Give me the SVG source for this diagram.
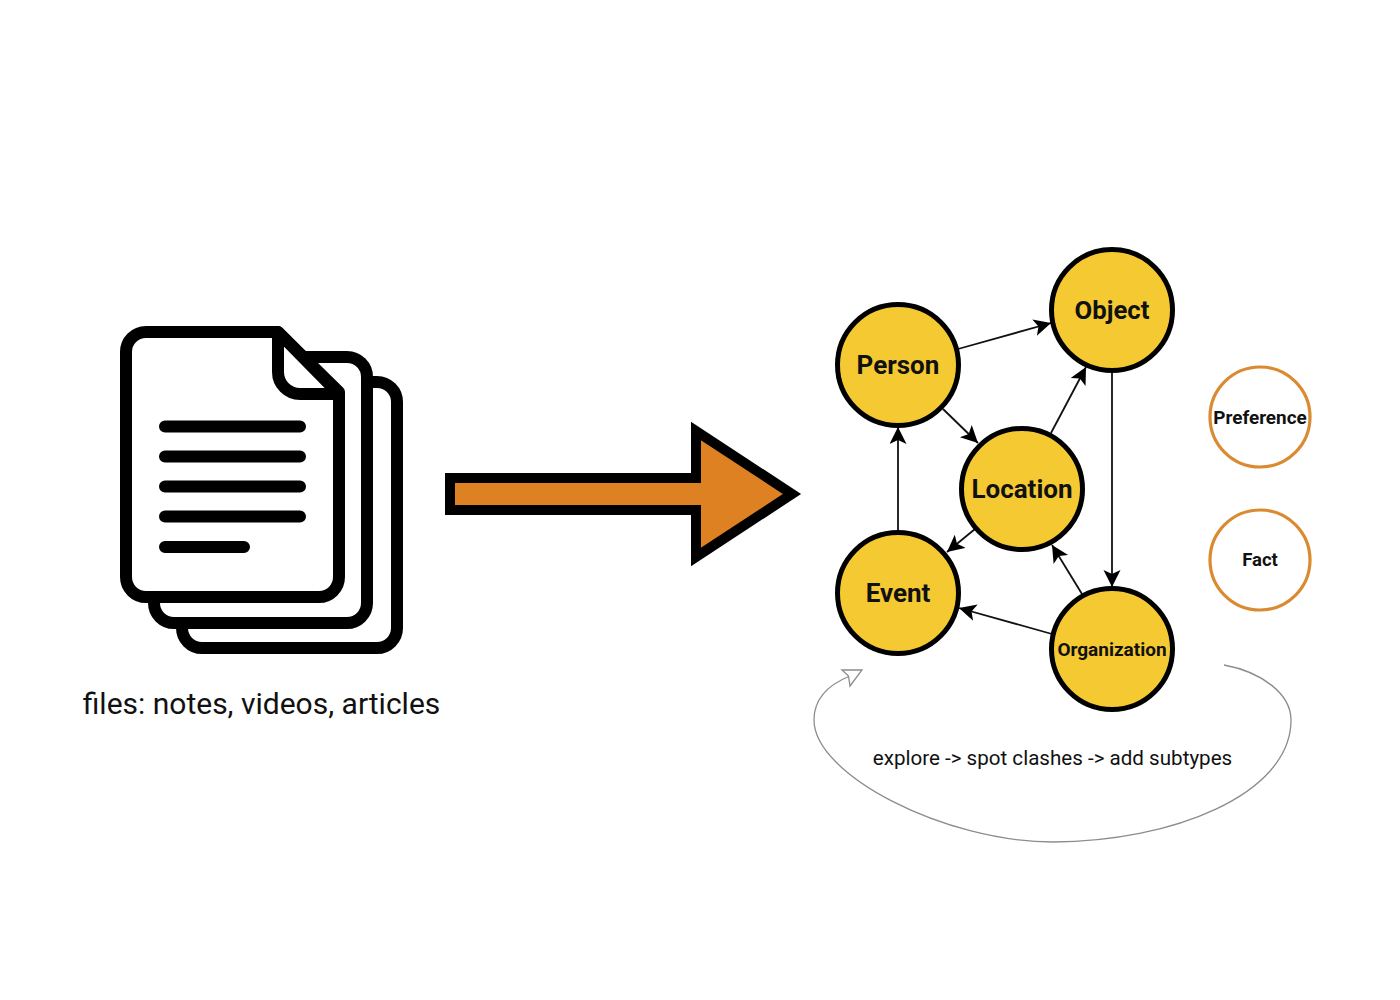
<svg xmlns="http://www.w3.org/2000/svg" width="1400" height="1000" viewBox="0 0 1400 1000">
<style>
text{font-family:Roboto,"Liberation Sans",sans-serif;fill:#111;text-anchor:middle}
.doc{fill:#fff;stroke:#000;stroke-width:12;stroke-linejoin:round}
.ln{stroke:#000;stroke-width:12;stroke-linecap:round;fill:none}
.n{fill:#f4c932;stroke:#000;stroke-width:5}
.o{fill:#fff;stroke:#da8a30;stroke-width:3.2}
.b{font-weight:700}
.e{stroke:#111;stroke-width:1.8;fill:none;marker-end:url(#a)}
</style>
<defs>
<marker id="a" markerUnits="userSpaceOnUse" markerWidth="19" markerHeight="19" refX="17" refY="8.500" orient="auto"><path d="M0 0L17 8.500L0 17L4 8.500Z" fill="#000"/></marker>
</defs>
<rect width="1400" height="1000" fill="#fff"/>
<g id="files">
<rect class="doc" x="182" y="382" width="215" height="266" rx="20"/>
<rect class="doc" x="154" y="357" width="213" height="266" rx="20"/>
<path class="doc" d="M146 332H278L339 392V577a20 20 0 0 1-20 20H146a20 20 0 0 1-20-20V352a20 20 0 0 1 20-20Z"/>
<path class="doc" d="M278 332V372a22 22 0 0 0 22 22H339Z"/>
<path class="ln" d="M165 426.500H300M165 456.500H300M165 486.500H300M165 516.500H300M165 547H244"/>
<text id="files-label" x="261.500" y="714" font-size="30">files: notes, videos, articles</text>
</g>
<g id="big-arrow">
<path d="M450 478H696V431L792 494L696 557V510H450Z" fill="#de8122" stroke="#000" stroke-width="10"/>
</g>
<g id="connectors">
<path class="e" d="M958 349L1051 323"/>
<path class="e" d="M943 409L978 443"/>
<path class="e" d="M1051 433L1086 367"/>
<path class="e" d="M1112 372V587"/>
<path class="e" d="M975 529L947 552"/>
<path class="e" d="M898 530V427"/>
<path class="e" d="M1082 594L1052 545"/>
<path class="e" d="M1052 634L959 608"/>
</g>
<g id="person"><circle class="n" cx="898" cy="365" r="60.500"/><text class="b" x="898" y="374" font-size="26">Person</text></g>
<g id="object"><circle class="n" cx="1112" cy="310" r="60.500"/><text class="b" x="1112" y="319" font-size="25.700">Object</text></g>
<g id="location"><circle class="n" cx="1022" cy="489" r="60.500"/><text class="b" x="1022" y="498" font-size="26">Location</text></g>
<g id="event"><circle class="n" cx="898" cy="593" r="60.500"/><text class="b" x="898" y="602" font-size="26">Event</text></g>
<g id="organization"><circle class="n" cx="1112" cy="649" r="60.500"/><text class="b" x="1112" y="656" font-size="19">Organization</text></g>
<g id="preference"><circle class="o" cx="1260" cy="417" r="50"/><text class="b" x="1260" y="424" font-size="18.900">Preference</text></g>
<g id="fact"><circle class="o" cx="1260" cy="560" r="50"/><text class="b" x="1260" y="566" font-size="18.500">Fact</text></g>
<g id="loop">
<path d="M1224 665C1262 672 1291 694 1291 720C1291 795 1170 842 1053 842C945 842 814 775 814 720C814 698 830 684 850 676" fill="none" stroke="#8c8c8c" stroke-width="1.300"/>
<path d="M842 670L862 670L850 686L848.500 676Z" fill="#fff" stroke="#8c8c8c" stroke-width="1.300"/>
<text id="loop-label" x="1052.500" y="765" font-size="20.600">explore -&gt; spot clashes -&gt; add subtypes</text>
</g>
</svg>
